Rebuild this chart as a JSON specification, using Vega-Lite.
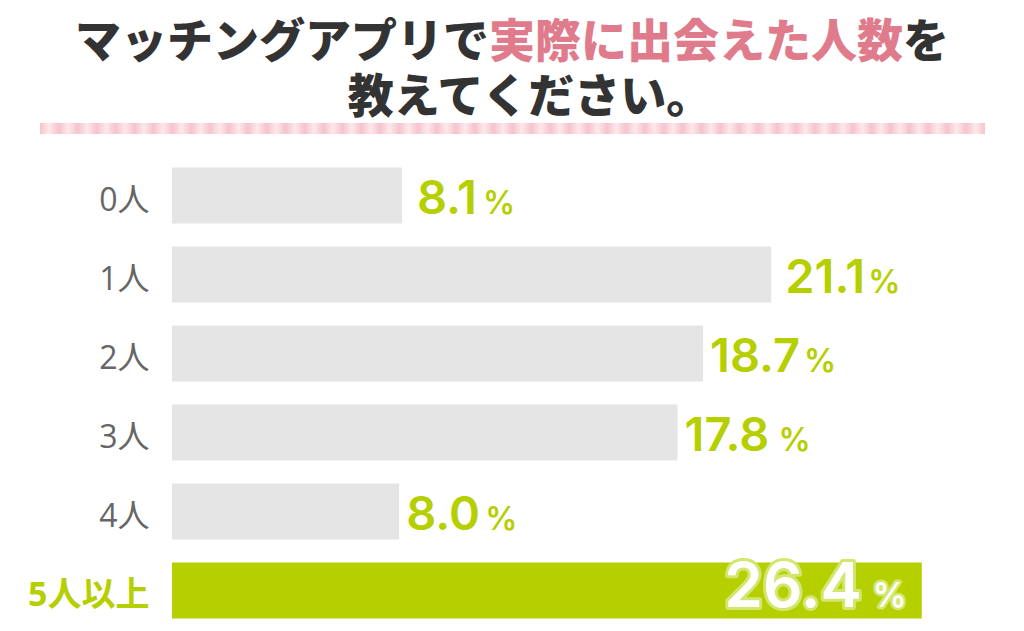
{
  "$schema": "https://vega.github.io/schema/vega-lite/v6.json",
  "padding": 0,
  "background": "white",
  "spacing": 0,
  "config": {
    "view": {"stroke": null},
    "title": {"font": "Noto Sans CJK JP", "fontSize": 46, "fontWeight": 900, "color": "#333333"},
    "concat": {"spacing": 0}
  },
  "vconcat": [
    {
      "hconcat": [
        {"width": 489, "height": 69, "title": {"text": "マッチングアプリで", "anchor": "end", "offset": -67, "color": "#333333"},
         "data": {"values": [{}]}, "mark": {"type": "text", "text": ""}, "encoding": {}},
        {"width": 414, "height": 69, "title": {"text": "実際に出会えた人数", "anchor": "start", "offset": -67, "color": "#e07b8b"},
         "data": {"values": [{}]}, "mark": {"type": "text", "text": ""}, "encoding": {}},
        {"width": 121, "height": 69, "title": {"text": "を", "anchor": "start", "offset": -67, "color": "#333333"},
         "data": {"values": [{}]}, "mark": {"type": "text", "text": ""}, "encoding": {}}
      ],
      "spacing": 0
    },
    {"width": 1024, "height": 53, "title": {"text": "教えてください。", "anchor": "middle", "dx": 18, "offset": -53, "color": "#333333"},
     "data": {"values": [{}]}, "mark": {"type": "text", "text": ""}, "encoding": {}},
    {
      "hconcat": [
        {"width": 40, "height": 11, "data": {"values": [{}]}, "mark": {"type": "text", "text": ""}, "encoding": {}},
        {"width": 945, "height": 11, "data": {"values": [{}]},
         "mark": {"type": "rect", "color": {"gradient": "linear", "x1": 0, "y1": 0, "x2": 1, "y2": 0, "stops": [
          {"offset": 0.00, "color": "#f6c3cd"}, {"offset": 0.01, "color": "#fde8ec"}, {"offset": 0.02, "color": "#f6c3cd"}, {"offset": 0.03, "color": "#fde8ec"}, {"offset": 0.04, "color": "#f6c3cd"}, {"offset": 0.05, "color": "#fde8ec"}, {"offset": 0.06, "color": "#f6c3cd"}, {"offset": 0.07, "color": "#fde8ec"}, {"offset": 0.08, "color": "#f6c3cd"}, {"offset": 0.09, "color": "#fde8ec"},
          {"offset": 0.10, "color": "#f6c3cd"}, {"offset": 0.11, "color": "#fde8ec"}, {"offset": 0.12, "color": "#f6c3cd"}, {"offset": 0.13, "color": "#fde8ec"}, {"offset": 0.14, "color": "#f6c3cd"}, {"offset": 0.15, "color": "#fde8ec"}, {"offset": 0.16, "color": "#f6c3cd"}, {"offset": 0.17, "color": "#fde8ec"}, {"offset": 0.18, "color": "#f6c3cd"}, {"offset": 0.19, "color": "#fde8ec"},
          {"offset": 0.20, "color": "#f6c3cd"}, {"offset": 0.21, "color": "#fde8ec"}, {"offset": 0.22, "color": "#f6c3cd"}, {"offset": 0.23, "color": "#fde8ec"}, {"offset": 0.24, "color": "#f6c3cd"}, {"offset": 0.25, "color": "#fde8ec"}, {"offset": 0.26, "color": "#f6c3cd"}, {"offset": 0.27, "color": "#fde8ec"}, {"offset": 0.28, "color": "#f6c3cd"}, {"offset": 0.29, "color": "#fde8ec"},
          {"offset": 0.30, "color": "#f6c3cd"}, {"offset": 0.31, "color": "#fde8ec"}, {"offset": 0.32, "color": "#f6c3cd"}, {"offset": 0.33, "color": "#fde8ec"}, {"offset": 0.34, "color": "#f6c3cd"}, {"offset": 0.35, "color": "#fde8ec"}, {"offset": 0.36, "color": "#f6c3cd"}, {"offset": 0.37, "color": "#fde8ec"}, {"offset": 0.38, "color": "#f6c3cd"}, {"offset": 0.39, "color": "#fde8ec"},
          {"offset": 0.40, "color": "#f6c3cd"}, {"offset": 0.41, "color": "#fde8ec"}, {"offset": 0.42, "color": "#f6c3cd"}, {"offset": 0.43, "color": "#fde8ec"}, {"offset": 0.44, "color": "#f6c3cd"}, {"offset": 0.45, "color": "#fde8ec"}, {"offset": 0.46, "color": "#f6c3cd"}, {"offset": 0.47, "color": "#fde8ec"}, {"offset": 0.48, "color": "#f6c3cd"}, {"offset": 0.49, "color": "#fde8ec"},
          {"offset": 0.50, "color": "#f6c3cd"}, {"offset": 0.51, "color": "#fde8ec"}, {"offset": 0.52, "color": "#f6c3cd"}, {"offset": 0.53, "color": "#fde8ec"}, {"offset": 0.54, "color": "#f6c3cd"}, {"offset": 0.55, "color": "#fde8ec"}, {"offset": 0.56, "color": "#f6c3cd"}, {"offset": 0.57, "color": "#fde8ec"}, {"offset": 0.58, "color": "#f6c3cd"}, {"offset": 0.59, "color": "#fde8ec"},
          {"offset": 0.60, "color": "#f6c3cd"}, {"offset": 0.61, "color": "#fde8ec"}, {"offset": 0.62, "color": "#f6c3cd"}, {"offset": 0.63, "color": "#fde8ec"}, {"offset": 0.64, "color": "#f6c3cd"}, {"offset": 0.65, "color": "#fde8ec"}, {"offset": 0.66, "color": "#f6c3cd"}, {"offset": 0.67, "color": "#fde8ec"}, {"offset": 0.68, "color": "#f6c3cd"}, {"offset": 0.69, "color": "#fde8ec"},
          {"offset": 0.70, "color": "#f6c3cd"}, {"offset": 0.71, "color": "#fde8ec"}, {"offset": 0.72, "color": "#f6c3cd"}, {"offset": 0.73, "color": "#fde8ec"}, {"offset": 0.74, "color": "#f6c3cd"}, {"offset": 0.75, "color": "#fde8ec"}, {"offset": 0.76, "color": "#f6c3cd"}, {"offset": 0.77, "color": "#fde8ec"}, {"offset": 0.78, "color": "#f6c3cd"}, {"offset": 0.79, "color": "#fde8ec"},
          {"offset": 0.80, "color": "#f6c3cd"}, {"offset": 0.81, "color": "#fde8ec"}, {"offset": 0.82, "color": "#f6c3cd"}, {"offset": 0.83, "color": "#fde8ec"}, {"offset": 0.84, "color": "#f6c3cd"}, {"offset": 0.85, "color": "#fde8ec"}, {"offset": 0.86, "color": "#f6c3cd"}, {"offset": 0.87, "color": "#fde8ec"}, {"offset": 0.88, "color": "#f6c3cd"}, {"offset": 0.89, "color": "#fde8ec"},
          {"offset": 0.90, "color": "#f6c3cd"}, {"offset": 0.91, "color": "#fde8ec"}, {"offset": 0.92, "color": "#f6c3cd"}, {"offset": 0.93, "color": "#fde8ec"}, {"offset": 0.94, "color": "#f6c3cd"}, {"offset": 0.95, "color": "#fde8ec"}, {"offset": 0.96, "color": "#f6c3cd"}, {"offset": 0.97, "color": "#fde8ec"}, {"offset": 0.98, "color": "#f6c3cd"}, {"offset": 0.99, "color": "#fde8ec"},
          {"offset": 1.00, "color": "#f6c3cd"}
         ]}},
         "encoding": {}}
      ],
      "spacing": 0
    },
    {"width": 1024, "height": 22, "data": {"values": [{}]}, "mark": {"type": "text", "text": ""}, "encoding": {}},
    {
      "width": 1024,
      "height": 474,
      "data": {"values": [
        {"cat": "0人", "v": 8.1},
        {"cat": "1人", "v": 21.1},
        {"cat": "2人", "v": 18.7},
        {"cat": "3人", "v": 17.8},
        {"cat": "4人", "v": 8.0},
        {"cat": "5人以上", "v": 26.4}
      ]},
      "encoding": {
        "y": {"field": "cat", "type": "nominal", "sort": null,
              "scale": {"paddingInner": 0.29, "paddingOuter": 0.145},
              "axis": {"title": null, "domain": false, "ticks": false, "labelPadding": -149, "labelOffset": 5,
                       "minExtent": 0, "maxExtent": 0,
                       "labelFont": "Open Sans, Noto Sans CJK JP",
                       "labelFontSize": {"condition": {"test": "datum.value === '5人以上'", "value": 34}, "value": 32},
                       "labelFontWeight": {"condition": {"test": "datum.value === '5人以上'", "value": "bold"}, "value": "normal"},
                       "labelColor": {"condition": {"test": "datum.value === '5人以上'", "value": "#b5cf00"}, "value": "#666666"}}},
        "x": {"field": "v", "type": "quantitative", "scale": {"domain": [0, 30], "range": [172, 1024]}, "axis": null}
      },
      "layer": [
        {"mark": {"type": "bar"},
         "encoding": {"color": {"condition": {"test": "datum.cat === '5人以上'", "value": "#b5cf00"}, "value": "#e5e5e5"}}},
        {"transform": [{"filter": "datum.cat === '0人'"}],
         "mark": {"type": "text", "align": "left", "baseline": "alphabetic", "dx": 15, "dy": 18, "font": "Inter", "fontSize": 47, "fontWeight": 600, "color": "#b5cf00"},
         "encoding": {"text": {"field": "v", "type": "quantitative", "format": ".1f"}}},
        {"transform": [{"filter": "datum.cat === '0人'"}],
         "mark": {"type": "text", "align": "left", "baseline": "alphabetic", "dx": 81, "dy": 18, "font": "Inter", "fontSize": 32, "fontWeight": 600, "color": "#b5cf00", "text": "%"}},
        {"transform": [{"filter": "datum.cat === '4人'"}],
         "mark": {"type": "text", "align": "left", "baseline": "alphabetic", "dx": 7, "dy": 18, "font": "Inter", "fontSize": 47, "fontWeight": 600, "color": "#b5cf00"},
         "encoding": {"text": {"field": "v", "type": "quantitative", "format": ".1f"}}},
        {"transform": [{"filter": "datum.cat === '4人'"}],
         "mark": {"type": "text", "align": "left", "baseline": "alphabetic", "dx": 86, "dy": 18, "font": "Inter", "fontSize": 32, "fontWeight": 600, "color": "#b5cf00", "text": "%"}},
        {"transform": [{"filter": "datum.v >= 10 && datum.v < 20"}],
         "mark": {"type": "text", "align": "left", "baseline": "alphabetic", "dx": 7, "dy": 18, "font": "Inter", "fontSize": 47, "fontWeight": 600, "color": "#b5cf00"},
         "encoding": {"text": {"field": "v", "type": "quantitative", "format": ".1f"}}},
        {"transform": [{"filter": "datum.v >= 10 && datum.v < 20"}],
         "mark": {"type": "text", "align": "left", "baseline": "alphabetic", "dx": 101, "dy": 18, "font": "Inter", "fontSize": 32, "fontWeight": 600, "color": "#b5cf00", "text": "%"}},
        {"transform": [{"filter": "datum.v >= 20 && datum.cat !== '5人以上'"}],
         "mark": {"type": "text", "align": "left", "baseline": "alphabetic", "dx": 14, "dy": 18, "font": "Inter", "fontSize": 47, "fontWeight": 600, "color": "#b5cf00"},
         "encoding": {"text": {"field": "v", "type": "quantitative", "format": ".1f"}}},
        {"transform": [{"filter": "datum.v >= 20 && datum.cat !== '5人以上'"}],
         "mark": {"type": "text", "align": "left", "baseline": "alphabetic", "dx": 97, "dy": 18, "font": "Inter", "fontSize": 32, "fontWeight": 600, "color": "#b5cf00", "text": "%"}},
        {"transform": [{"filter": "datum.cat === '5人以上'"}],
         "mark": {"type": "text", "align": "right", "baseline": "alphabetic", "dx": -60, "dy": 16, "font": "Inter", "fontSize": 62, "fontWeight": 600, "color": "#d3e66e", "stroke": "#d3e66e", "strokeWidth": 6, "strokeJoin": "round"},
         "encoding": {"text": {"field": "v", "type": "quantitative", "format": ".1f"}}},
        {"transform": [{"filter": "datum.cat === '5人以上'"}],
         "mark": {"type": "text", "align": "right", "baseline": "alphabetic", "dx": -15, "dy": 16, "font": "Inter", "fontSize": 34, "fontWeight": 600, "color": "#d3e66e", "stroke": "#d3e66e", "strokeWidth": 5, "strokeJoin": "round", "text": "%"}},
        {"transform": [{"filter": "datum.cat === '5人以上'"}],
         "mark": {"type": "text", "align": "right", "baseline": "alphabetic", "dx": -60, "dy": 16, "font": "Inter", "fontSize": 62, "fontWeight": 600, "color": "#ffffff"},
         "encoding": {"text": {"field": "v", "type": "quantitative", "format": ".1f"}}},
        {"transform": [{"filter": "datum.cat === '5人以上'"}],
         "mark": {"type": "text", "align": "right", "baseline": "alphabetic", "dx": -15, "dy": 16, "font": "Inter", "fontSize": 34, "fontWeight": 600, "color": "#ffffff", "text": "%"}}
      ]
    }
  ]
}
